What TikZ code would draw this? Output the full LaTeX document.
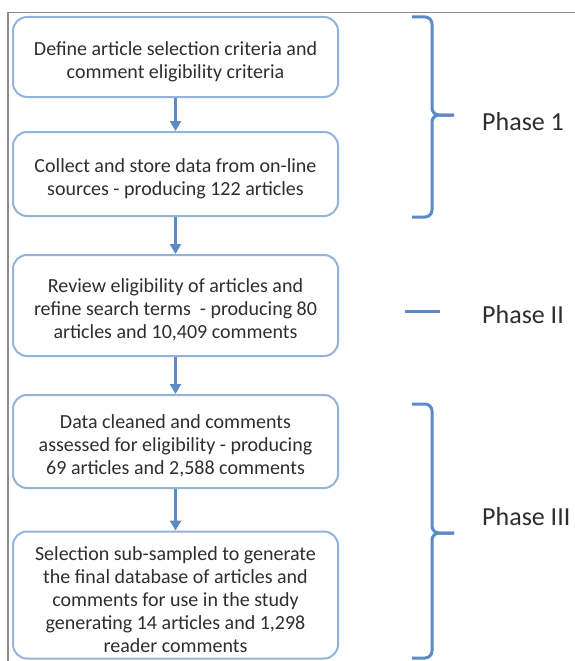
\documentclass[tikz,border=0pt]{standalone}
\usepackage{fontspec}
\setmainfont{Carlito}
\usetikzlibrary{arrows.meta}
\definecolor{boxblue}{HTML}{93B3D9}
\definecolor{linkblue}{HTML}{5B8AC6}
\definecolor{txt}{HTML}{2E2E2E}
\definecolor{framegray}{HTML}{8C8C8C}
\newcommand{\boxtopgap}{\rule{0pt}{23pt}}
\begin{document}
\begin{tikzpicture}[x=1pt,y=-1pt,
  stagebox/.style={draw=boxblue, line width=2pt, rounded corners=14pt, minimum width=325pt, align=center, text=txt, font=\fontsize{20}{23}\selectfont, inner sep=0pt},
  link/.style={draw=linkblue, line width=3pt, -{Triangle[length=10pt,width=11pt]}},
  bracket/.style={draw=linkblue, line width=3pt, rounded corners=7pt},
  phase/.style={font=\fontsize{26}{30}\selectfont, text=txt, anchor=west, inner sep=0pt},
  framestyle/.style={draw=framegray, line width=1.5pt}]
\useasboundingbox (0,0) rectangle (575,661);
\draw[framestyle] (8,661) -- (8,12.5) -- (575,12.5);

\node[stagebox, minimum height=80pt] (b1) at (175.5,57) {\boxtopgap Define article selection criteria and\\comment eligibility criteria};
\node[stagebox, minimum height=84pt] (b2) at (175.5,174) {\boxtopgap Collect and store data from on-line\\sources - producing 122 articles};
\node[stagebox, minimum height=101pt] (b3) at (175.5,305.5) {\boxtopgap Review eligibility of articles and\\refine search terms \ - producing 80\\articles and 10,409 comments};
\node[stagebox, minimum height=93pt] (b4) at (175.5,441.5) {\boxtopgap Data cleaned and comments\\assessed for eligibility - producing\\69 articles and 2,588 comments};
\node[stagebox, minimum height=127pt] (b5) at (175.5,595) {\boxtopgap Selection sub-sampled to generate\\the final database of articles and\\comments for use in the study\\generating 14 articles and 1,298\\reader comments};

\draw[link] (b1) -- (b2);
\draw[link] (b2) -- (b3);
\draw[link] (b3) -- (b4);
\draw[link] (b4) -- (b5);

% Phase 1 bracket
\coordinate (t1) at (454,115);
\draw[bracket] (412,17) -- (432,17) -- (432,115) -- (t1);
\draw[bracket] (t1) -- (432,115) -- (432,217) -- (412,217);
\node[phase] (p1) at (482,122) {Phase 1};

% Phase II
\coordinate (t2a) at (405,311);
\coordinate (t2b) at (440,311);
\draw[bracket] (t2a) -- (t2b);
\node[phase] (p2) at (482,315) {Phase II};

% Phase III bracket
\coordinate (t3) at (454,533);
\draw[bracket] (412,404) -- (432,404) -- (432,533) -- (t3);
\draw[bracket] (t3) -- (432,533) -- (432,658) -- (412,658);
\node[phase] (p3) at (482,517) {Phase III};
\end{tikzpicture}
\end{document}
